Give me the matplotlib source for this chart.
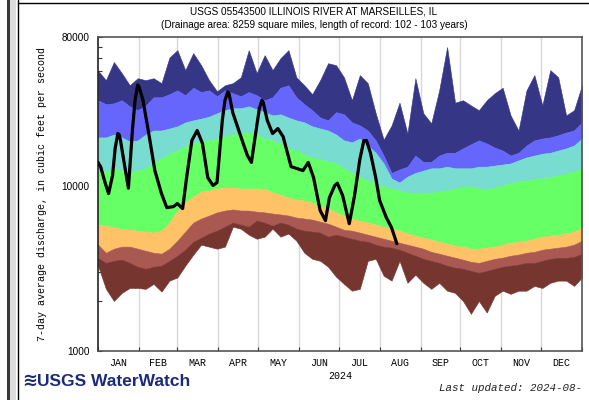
import matplotlib
matplotlib.use("Agg")
import matplotlib.pyplot as plt
from matplotlib.patches import Rectangle
from matplotlib.lines import Line2D
from matplotlib.ticker import FixedLocator, NullFormatter

band_days = list(range(0, 367, 6))

# daily-flow percentiles of 7-day average discharge, cfs
q_max = [50000, 43800, 56400, 48300, 40800, 45000, 43800, 45000, 42000, 60000,
         66600, 50400, 63900, 54000, 43800, 37500, 40800, 42000, 45600, 66600,
         48300, 62100, 50400, 59500, 66600, 45600, 40800, 36000, 43800, 55500,
         54000, 45600, 33100, 47000, 42000, 27600, 19100, 23300, 32000, 20800,
         45000, 27600, 24000, 38000, 69500, 32000, 33100, 30800, 28800, 33100,
         36500, 39400, 26800, 21700, 38000, 47000, 30800, 50400, 45600, 26800,
         28800, 40800]
q95 = [33100, 31300, 31700, 33100, 30400, 28800, 30800, 34500, 34500, 36000,
       38000, 35500, 39400, 37100, 38000, 35000, 38000, 36500, 35000, 37100,
       35500, 33100, 34500, 39400, 40800, 34500, 31300, 28800, 26000, 25000,
       28000, 27200, 24300, 23300, 21700, 18900, 15300, 12000, 12600, 13100,
       15300, 14000, 14000, 15300, 15900, 15900, 16900, 17900, 18900, 18100,
       17100, 16400, 15300, 15900, 17600, 18900, 19400, 19700, 20300, 21100,
       21700, 24300]
q90 = [19700, 19700, 20500, 19700, 18600, 18900, 20500, 21700, 21700, 22300,
       23000, 24300, 25000, 25600, 26300, 27600, 28800, 29600, 29600, 30400,
       29200, 28000, 26800, 27200, 26000, 25000, 24300, 23000, 22300, 21700,
       20500, 18900, 18400, 19400, 17600, 15900, 13700, 11100, 10500, 11400,
       12000, 12400, 12800, 12800, 13100, 12800, 12800, 12800, 13100, 13100,
       13300, 13500, 13700, 14300, 14900, 15300, 15700, 15900, 16400, 16900,
       17600, 19400]
q75 = [12200, 12200, 12800, 12400, 12200, 12400, 12800, 13700, 14700, 15700,
       16400, 17400, 18100, 18600, 18900, 19400, 19900, 20500, 21100, 21100,
       20500, 19400, 18900, 18100, 16900, 16400, 15500, 14900, 14500, 14100,
       13700, 12800, 12000, 11400, 10800, 10400, 9930, 9650, 9390, 9120,
       9120, 9120, 9120, 9250, 9390, 9650, 9930, 9930, 9650, 9520,
       9790, 10070, 10400, 10700, 10800, 11000, 11100, 11300, 11600, 11900,
       12200, 12800]
q25 = [5830, 5750, 5590, 5510, 5430, 5360, 5290, 5220, 5360, 6000,
       7100, 7930, 8630, 9260, 9390, 9650, 9790, 9790, 9650, 9650,
       9650, 9650, 9120, 8870, 8510, 8270, 8160, 7930, 7510, 7310,
       6920, 6620, 6350, 6170, 6000, 5830, 5670, 5510, 5360, 5150,
       5000, 4860, 4730, 4590, 4470, 4350, 4290, 4170, 4170, 4230,
       4290, 4410, 4530, 4590, 4660, 4790, 4930, 5000, 5070, 5150,
       5290, 5590]
q10 = [4410, 3940, 4170, 4290, 4290, 4170, 4050, 3940, 3890, 4170,
       4660, 5290, 6000, 6350, 6620, 6920, 7100, 7210, 7100, 7100,
       6990, 6920, 6810, 6720, 6620, 6440, 6350, 6260, 6080, 5910,
       5670, 5430, 5360, 5220, 5070, 4930, 4790, 4660, 4530, 4410,
       4290, 4170, 3990, 3890, 3780, 3680, 3580, 3470, 3420, 3520,
       3620, 3680, 3780, 3840, 3940, 3990, 4110, 4170, 4230, 4290,
       4410, 4660]
q05 = [3670, 3420, 3520, 3580, 3420, 3240, 3150, 3240, 3290, 3520,
       3780, 4110, 4590, 4860, 5150, 5360, 5670, 6000, 5830, 5670,
       6170, 6000, 5750, 6000, 5830, 5510, 5360, 5290, 5220, 4930,
       5070, 4930, 4790, 4660, 4590, 4410, 4290, 4230, 4110, 3940,
       3780, 3620, 3520, 3420, 3290, 3200, 3150, 3060, 2980, 3060,
       3150, 3240, 3290, 3340, 3420, 3420, 3520, 3620, 3670, 3670,
       3720, 3890]
q_min = [3290, 2380, 2010, 2250, 2410, 2410, 2380, 2550, 2290, 2670,
         2790, 3290, 3830, 4410, 4290, 4170, 4290, 5670, 5510, 5070,
         4790, 4930, 5510, 4930, 5150, 4660, 3940, 3620, 3520, 3240,
         2820, 2550, 2320, 2380, 3520, 3620, 2860, 2670, 3520, 2590,
         2900, 2590, 2380, 2590, 2320, 2250, 2010, 1680, 2010, 1710,
         2160, 2320, 2220, 2320, 2320, 2480, 2410, 2590, 2670, 2670,
         2480, 2790]

# 2024 observed 7-day average discharge
obs_days = [0, 2, 5, 8, 11, 13, 15, 16, 17, 20, 23, 26, 28, 30, 31, 34, 38,
            43, 48, 52, 57, 60, 64, 67, 71, 75, 79, 83, 87, 90, 94, 96, 98,
            99, 102, 109, 113, 116, 120, 122, 124, 125, 128, 132, 136, 140,
            146, 150, 155, 159, 163, 168, 172, 175, 179, 181, 185, 190, 194,
            198, 201, 203, 206, 210, 213, 218, 222, 226]
obs_q = [13900, 13100, 10700, 9000, 11580, 17000, 20800, 20500, 18900, 13500,
         9700, 21700, 33000, 41000, 40000, 33100, 21700, 12400, 9000, 7400,
         7500, 7830, 7300, 11250, 18900, 21700, 18100, 11250, 10070, 10500,
         25000, 33000, 37100, 36500, 27700, 18900, 15300, 13900, 23000, 29500,
         33100, 32000, 25000, 20800, 22300, 19900, 13100, 12800, 12400, 13900,
         11250, 7100, 6170, 8500, 10070, 10400, 8750, 5910, 8750, 14500,
         18800, 18900, 15900, 11250, 8160, 6440, 5590, 4470]

month_edges = [0, 31, 60, 91, 121, 152, 182, 213, 244, 274, 305, 335, 366]
month_names = ['JAN', 'FEB', 'MAR', 'APR', 'MAY', 'JUN',
               'JUL', 'AUG', 'SEP', 'OCT', 'NOV', 'DEC']
month_mid = [(a + b) / 2 for a, b in zip(month_edges[:-1], month_edges[1:])]

band_colors = ['#363686', '#6666fc', '#78dcd0', '#66ff66',
               '#ffc266', '#aa5852', '#773530']

fig = plt.figure(figsize=(5.89, 4.0), dpi=100)
ax = fig.add_axes([98 / 589, 49 / 400, 484 / 589, 314 / 400])

for d in month_edges[1:-1]:
    ax.axvline(d, color='#d8d8d8', lw=1.0, zorder=1)

curves = [q_max, q95, q90, q75, q25, q10, q05, q_min]
for upper, lower, c in zip(curves[:-1], curves[1:], band_colors):
    ax.fill_between(band_days, lower, upper, color=c, lw=0.4, zorder=2)

ax.plot(obs_days, obs_q, color='black', lw=2.3, zorder=3,
        solid_joinstyle='round', solid_capstyle='round')

ax.set_yscale('log')
ax.set_ylim(1000, 80000)
ax.set_xlim(0, 366)

ax.yaxis.set_major_locator(FixedLocator([1000, 10000, 80000]))
ax.set_yticklabels(['1000', '10000', '80000'], family='Liberation Sans', size=7.2)
ax.yaxis.set_minor_locator(FixedLocator([2000, 3000, 4000, 5000, 6000, 7000, 8000, 9000,
                                         20000, 30000, 40000, 50000, 60000, 70000]))
ax.yaxis.set_minor_formatter(NullFormatter())
ax.tick_params(axis='y', which='both', direction='in', length=3, width=0.8,
               pad=6, color='#333333')

ax.set_xticks(month_edges)
ax.set_xticklabels([''] * len(month_edges))
ax.set_xticks(month_mid, minor=True)
ax.set_xticklabels(month_names, minor=True, family='Liberation Mono', size=7.2)
ax.tick_params(axis='x', which='major', direction='in', length=3, width=0.8, color='#333333')
ax.tick_params(axis='x', which='minor', length=0, pad=5)

for side, sp in ax.spines.items():
    sp.set_color('#555555')
    sp.set_linewidth(1.2)
ax.spines['left'].set_color('#222222')

ax.set_ylabel('7-day average discharge, in cubic feet per second',
              family='Liberation Mono', size=7.2)
ax.yaxis.set_label_coords(-51 / 484, 0.5)

fig.text(314 / 589, 1 - 12 / 400, 'USGS 05543500 ILLINOIS RIVER AT MARSEILLES, IL',
         ha='center', va='center', family='Liberation Sans', size=7.2)
fig.text(314 / 589, 1 - 25 / 400,
         '(Drainage area: 8259 square miles, length of record: 102 - 103 years)',
         ha='center', va='center', family='Liberation Sans', size=7.2)
fig.text(340 / 589, 1 - 376 / 400, '2024', ha='center', va='center',
         family='Liberation Mono', size=7.2)

# logo and update stamp
fig.text(22 / 589, 1 - 381 / 400, '\u224b', ha='left', va='center',
         family='DejaVu Sans', size=13, color='#1c2a7a', fontweight='bold')
fig.text(37 / 589, 1 - 381 / 400, 'USGS WaterWatch', ha='left', va='center',
         family='Liberation Sans', size=12.5, color='#1c2a7a', fontweight='bold')
fig.text(439 / 589, 1 - 388 / 400, 'Last updated: 2024-08-', ha='left', va='center',
         family='Liberation Mono', style='italic', size=7.8, color='#222222')

# page frame around the graphic
fig.add_artist(Rectangle((7 / 589, 0), 3 / 589, 1, transform=fig.transFigure,
                         color='#3a3a3a', lw=0))
fig.add_artist(Rectangle((10 / 589, 0), 6 / 589, 1, transform=fig.transFigure,
                         color='#dcdcdc', lw=0))
fig.add_artist(Line2D([17.5 / 589, 17.5 / 589], [0, 1], transform=fig.transFigure,
                      color='black', lw=1.0))
fig.add_artist(Line2D([17.5 / 589, 1], [1 - 3 / 400, 1 - 3 / 400], transform=fig.transFigure,
                      color='black', lw=1.0))

fig.savefig('out.png', dpi=100)
